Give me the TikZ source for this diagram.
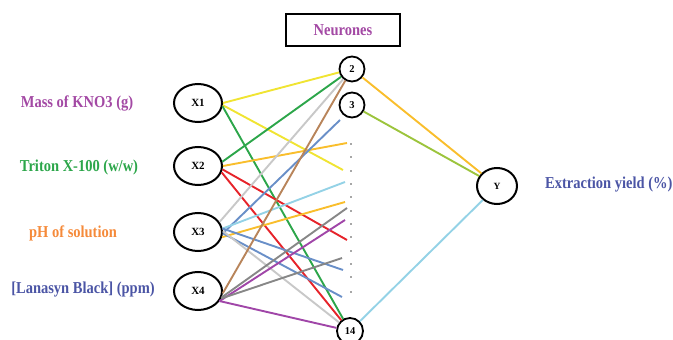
\documentclass[tikz,border=0pt]{standalone}
\usepackage{fontspec}
\usepackage{graphicx}
\setmainfont{Liberation Serif}
\usetikzlibrary{shapes.geometric}
\newcommand{\vstretch}[1]{\scalebox{1}[1.15]{#1}}
\definecolor{cyel}{RGB}{240,228,50}
\definecolor{cgreen}{RGB}{44,166,74}
\definecolor{corange}{RGB}{249,190,44}
\definecolor{cred}{RGB}{230,35,42}
\definecolor{clgray}{RGB}{200,200,200}
\definecolor{cblue}{RGB}{105,143,200}
\definecolor{clblue}{RGB}{148,210,230}
\definecolor{cgray}{RGB}{135,135,135}
\definecolor{cbrown}{RGB}{184,132,90}
\definecolor{cpurple}{RGB}{160,70,168}
\definecolor{clime}{RGB}{156,196,60}
\definecolor{tpurple}{RGB}{163,73,164}
\definecolor{tgreen}{RGB}{44,166,74}
\definecolor{torange}{RGB}{245,138,58}
\definecolor{tblue}{RGB}{75,85,165}
\begin{document}
\begin{tikzpicture}[x=1pt,y=-1pt,
  inp/.style={ellipse,draw=black,line width=2pt,minimum width=48pt,minimum height=38pt,inner sep=0pt,font=\fontsize{11}{13}\selectfont\bfseries},
  hid/.style={circle,draw=black,line width=1.8pt,minimum size=25pt,inner sep=0pt,font=\fontsize{10.5}{12}\selectfont\bfseries},
  lbl/.style={font=\fontsize{14.5}{17}\selectfont\bfseries,inner sep=0pt},
  ln/.style={line width=1.9pt},
  dotc/.style={circle,fill=black!70,inner sep=0pt,minimum size=1.8pt}]
\useasboundingbox (0,0) rectangle (673,340);
% input nodes
\node[inp] (x1) at (198,103) {X1};
\node[inp] (x2) at (198,166) {X2};
\node[inp] (x3) at (198,232) {X3};
\node[inp] (x4) at (198,291) {X4};
% hidden nodes
\node[hid] (n2) at (352,69) {2};
\node[hid] (n3) at (352,105) {3};
\node[hid,minimum size=26pt] (n14) at (350,331) {14};
% output
\node[ellipse,draw=black,line width=2pt,minimum width=40pt,minimum height=36pt,inner sep=0pt,font=\fontsize{9.5}{11}\selectfont\bfseries] (y) at (497,186) {Y};
% title box
\node[draw=black,line width=2pt,minimum width=114pt,minimum height=32pt,inner sep=0pt,lbl,text=tpurple] (neur) at (343,30) {\vstretch{Neurones}};
% labels
\node[lbl,text=tpurple] (l1) at (77,103) {\vstretch{Mass of KNO3 (g)}};
\node[lbl,text=tgreen] (l2) at (79,167) {\vstretch{Triton X-100 (w/w)}};
\node[lbl,text=torange] (l3) at (73,233) {\vstretch{pH of solution}};
\node[lbl,text=tblue] (l4) at (83,290) {\vstretch{[Lanasyn Black] (ppm)}};
\node[lbl,text=tblue,anchor=west] (ly) at (545,185) {\vstretch{Extraction yield (\%)}};
% dots
\foreach \i/\yy in {1/144,2/157,3/171,4/184,5/197,6/211,7/224,8/237,9/251,10/264,11/277,12/292}
  \node[dotc] (d\i) at (351,\yy) {};
% line end coordinates near dots
\coordinate (e1) at (347,143);
\coordinate (e2) at (343,170);
\coordinate (e3) at (345,182);
\coordinate (e4) at (345,202);
\coordinate (e5) at (347,208);
\coordinate (e6) at (345,220);
\coordinate (e7) at (347,240);
\coordinate (e8) at (342,258);
\coordinate (e9) at (343,270);
\coordinate (e10) at (342,297);
\coordinate (e11) at (340,120);
% X1
\draw[ln,cyel] (x1.east) -- (n2);
\draw[ln,cyel] (x1.-5) -- (e2);
\draw[ln,cgreen] (x1.-8) -- (n14);
% X2
\draw[ln,cgreen] (x2.10) -- (n2);
\draw[ln,corange] (x2.east) -- (e1);
\draw[ln,cred] (x2.-8) -- (e7);
\draw[ln,cred] (x2.-15) -- (n14);
% X3
\draw[ln,clgray] (x3.25) -- (n2);
\draw[ln,cblue] (x3.-3) -- (e11);
\draw[ln,clblue] (x3.8) -- (e3);
\draw[ln,corange] (x3.-12) -- (e4);
\draw[ln,cblue] (x3.8) -- (e9);
\draw[ln,cblue] (x3.-3) -- (e10);
\draw[ln,clgray] (x3.2) -- (n14);
% X4
\draw[ln,cbrown] (x4.-5) -- (n2);
\draw[ln,cgray] (x4.-15) -- (e5);
\draw[ln,cpurple] (x4.-25) -- (e6);
\draw[ln,cgray] (x4.-18) -- (e8);
\draw[ln,cpurple] (x4.-25) -- (n14);
% hidden to output
\draw[ln,corange] (n2) -- (y);
\draw[ln,clime] (n3) -- (y);
\draw[ln,clblue] (n14) -- (y);
\end{tikzpicture}
\end{document}
